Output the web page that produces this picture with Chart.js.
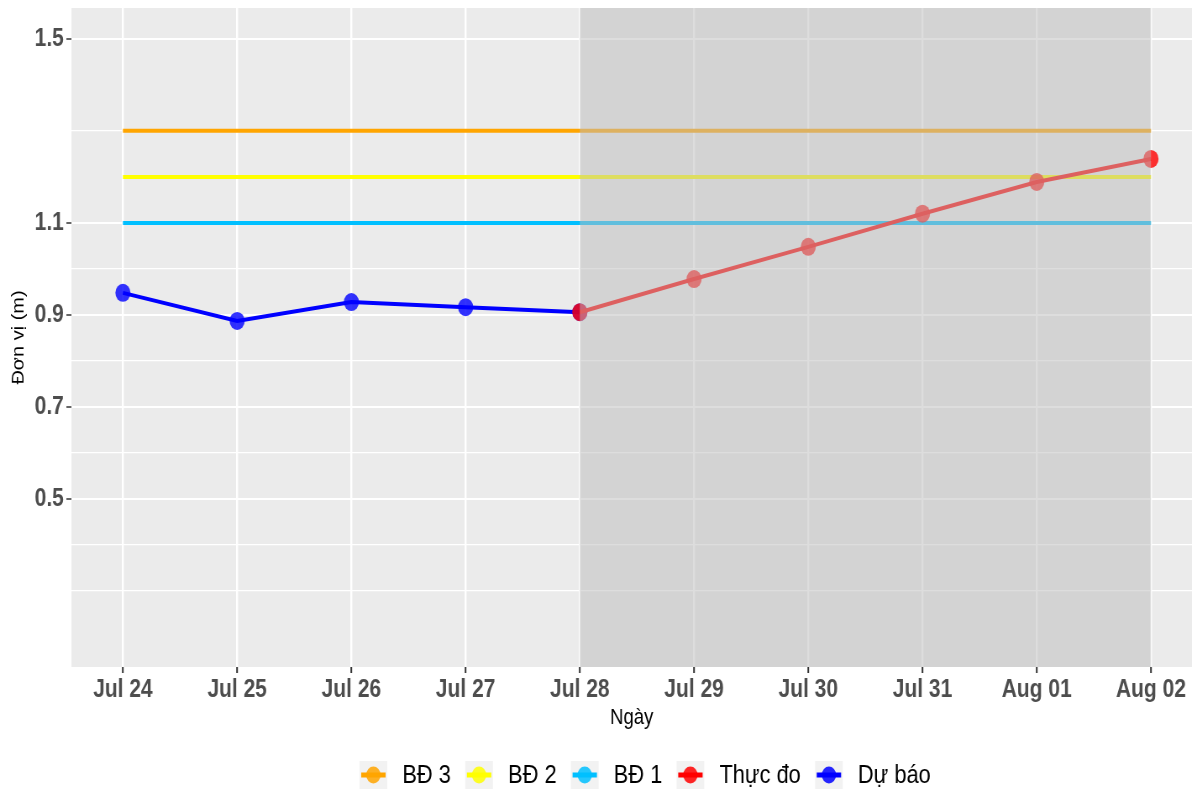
<!DOCTYPE html>
<html>
<head>
<meta charset="utf-8">
<script src="https://cdn.jsdelivr.net/npm/chart.js@4.4.0/dist/chart.umd.min.js"></script>
<style>
  html, body { margin: 0; padding: 0; background: #fff; overflow: hidden; }
  /* the reference is squeezed sideways, so draw wide and squeeze */
  #wrap { width: 1419px; height: 791px; transform: scaleX(0.84); transform-origin: 0 0; }
</style>
</head>
<body>
<div id="wrap"><canvas id="water-level" width="1419" height="791"></canvas></div>
<script>
// ================================================================ data
let dates = ["Jul 24", "Jul 25", "Jul 26", "Jul 27", "Jul 28", "Jul 29", "Jul 30", "Jul 31", "Aug 01", "Aug 02"];
let duBao = [0.948, 0.887, 0.928, 0.917, 0.906];          // Jul 24 -> Jul 28
let thucDo = [0.906, 0.978, 1.048, 1.12, 1.189, 1.239];   // Jul 28 -> Aug 02
let bd1 = 1.1;
let bd2 = 1.2;
let bd3 = 1.3;
let yTicks = [0.5, 0.7, 0.9, 1.1, 1.5];
let yMinor = [0.3, 0.4, 0.6, 0.8, 1.0, 1.3];

let shadeFrom = 4; // Jul 28
let shadeTo = 9;   // Aug 02

let fontName = "'Liberation Sans', Arial, sans-serif";

// points for chart.js
let duBaoPts = duBao.map((v, i) => ({ x: i, y: v }));
let thucDoPts = thucDo.map((v, i) => ({ x: i + 4, y: v }));
let level = (v) => [{ x: 0, y: v }, { x: dates.length - 1, y: v }];

// ================================================================ plugins
// grey panel behind everything
let panelBg = {
  id: "panelBg",
  beforeDraw(chart) {
    let a = chart.chartArea, c = chart.ctx;
    c.save();
    c.fillStyle = "#EBEBEB";
    c.fillRect(a.left, a.top, a.right - a.left, a.bottom - a.top);
    c.restore();
  }
};

// translucent rect over the last days
let shade = {
  id: "shade",
  afterDatasetsDraw(chart) {
    let a = chart.chartArea, c = chart.ctx, x = chart.scales.x;
    let x0 = x.getPixelForValue(shadeFrom), x1 = x.getPixelForValue(shadeTo);
    c.save();
    c.fillStyle = "rgba(188,188,188,0.51)";
    c.fillRect(x0, a.top, x1 - x0, a.bottom - a.top);
    c.restore();
  }
};

// ggplot style legend at the bottom
let legendItems = [
  { label: "BĐ 3", color: "#FFA500" },
  { label: "BĐ 2", color: "#FFFF00" },
  { label: "BĐ 1", color: "#00BFFF" },
  { label: "Thực đo", color: "#FF0000" },
  { label: "Dự báo", color: "#0000FF" }
];
let ggLegend = {
  id: "ggLegend",
  afterDraw(chart) {
    let c = chart.ctx;
    let x = 428, yc = 775, kw = 33, kh = 28;
    c.save();
    c.font = "26px " + fontName;
    c.textBaseline = "middle";
    legendItems.forEach(it => {
      c.fillStyle = "#F2F2F2";
      c.fillRect(x, yc - kh / 2, kw, kh);
      c.strokeStyle = it.color;
      c.lineWidth = 5;
      c.beginPath();
      c.moveTo(x + 2, yc);
      c.lineTo(x + kw - 2, yc);
      c.stroke();
      c.globalAlpha = 0.85;
      c.fillStyle = it.color;
      c.beginPath();
      c.arc(x + kw / 2, yc, 8.5, 0, Math.PI * 2);
      c.fill();
      c.globalAlpha = 1;
      c.fillStyle = "#000";
      c.fillText(it.label, x + kw + 18, yc + 1);
      x += kw + 18 + c.measureText(it.label).width + 17;
    });
    c.restore();
  }
};

// ================================================================ chart
let lineSet = (label, data, color, order, pts) => ({
  label: label,
  data: data,
  borderColor: color,
  backgroundColor: color,
  borderWidth: 4,
  pointRadius: pts ? 9 : 0,
  pointHoverRadius: pts ? 9 : 0,
  pointBorderWidth: 0,
  pointBackgroundColor: pts ? color.replace("rgb(", "rgba(").replace(")", ",0.8)") : color,
  tension: 0,
  order: order
});

let waterLevel = new Chart(document.getElementById("water-level"), {
  type: "line",
  data: {
    datasets: [
      lineSet("BĐ 3", level(bd3), "rgb(255,165,0)", 3, false),
      lineSet("BĐ 2", level(bd2), "rgb(255,255,0)", 3, false),
      lineSet("BĐ 1", level(bd1), "rgb(0,191,255)", 3, false),
      lineSet("Thực đo", thucDoPts, "rgb(255,0,0)", 1, true),
      lineSet("Dự báo", duBaoPts, "rgb(0,0,255)", 2, true)
    ]
  },
  options: {
    responsive: false,
    animation: false,
    devicePixelRatio: 1,
    layout: { autoPadding: false, padding: { top: 8, right: 0, left: 0, bottom: 46 } },
    plugins: {
      legend: { display: false },
      tooltip: { enabled: false }
    },
    scales: {
      x: {
        type: "linear",
        min: -0.451,
        max: 9.359,
        afterBuildTicks: (s) => { s.ticks = dates.map((d, i) => ({ value: i })); },
        afterFit: (s) => { s.height = 78; s.paddingLeft = 0; s.paddingRight = 0; },
        ticks: {
          callback: (v) => dates[v],
          color: "#4D4D4D",
          font: { family: fontName, size: 25, weight: "bold" },
          padding: 2,
          maxRotation: 0,
          autoSkip: false
        },
        grid: {
          color: "#FFFFFF",
          lineWidth: 2.4,
          tickColor: "#333333",
          tickLength: 6,
          tickWidth: 2
        },
        border: { display: false },
        title: {
          display: true,
          text: "Ngày",
          color: "#000",
          font: { family: fontName, size: 22 },
          padding: { top: 0, bottom: 14 }
        }
      },
      y: {
        min: 0.135,
        max: 1.567,
        afterBuildTicks: (s) => {
          s.ticks = yMinor.concat(yTicks).sort((a, b) => a - b).map(v => ({ value: v }));
        },
        afterFit: (s) => { s.width = 85; s.paddingTop = 0; s.paddingBottom = 0; },
        ticks: {
          callback: (v) => yTicks.includes(v) ? v.toFixed(1) : "",
          color: "#4D4D4D",
          font: { family: fontName, size: 25, weight: "bold" },
          padding: 3
        },
        grid: {
          color: "#FFFFFF",
          lineWidth: (ctx) => yTicks.includes(ctx.tick && ctx.tick.value) ? 2 : 1.3,
          tickColor: (ctx) => yTicks.includes(ctx.tick && ctx.tick.value) ? "#333333" : "rgba(0,0,0,0)",
          tickLength: 6,
          tickWidth: 1.5
        },
        border: { display: false },
        title: {
          display: true,
          text: "Đơn vị (m)",
          color: "#000",
          font: { family: fontName, size: 20 },
          padding: { top: 10, bottom: 0 }
        }
      }
    }
  },
  plugins: [panelBg, shade, ggLegend]
});
</script>
</body>
</html>
